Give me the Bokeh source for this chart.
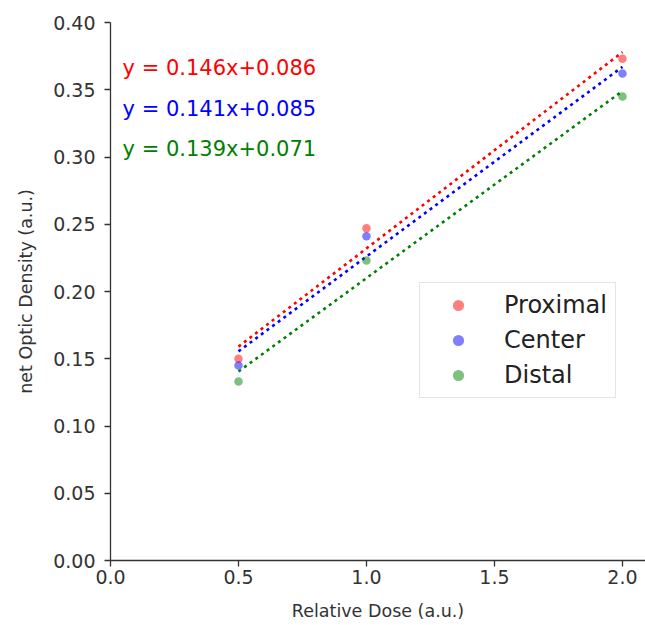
from bokeh.plotting import figure
from bokeh.models import Range1d, FixedTicker, PrintfTickFormatter, Legend, LegendItem, Label
from bokeh.embed import file_html
from bokeh.resources import INLINE

# Data
dose = [0.5, 1.0, 2.0]
proximal = [0.150, 0.247, 0.373]
center = [0.145, 0.241, 0.362]
distal = [0.133, 0.223, 0.345]
series_names = ["Proximal", "Center", "Distal"]
slopes = [0.146, 0.141, 0.139]
intercepts = [0.086, 0.085, 0.071]
fit_x = [0.5, 2.0]
eq_y = [0.366, 0.336, 0.306]
x_ticks = [0.0, 0.5, 1.0, 1.5, 2.0]
y_ticks = [0.00, 0.05, 0.10, 0.15, 0.20, 0.25, 0.30, 0.35, 0.40]

colors = ["#ff0000", "#0000ff", "#008000"]
FONT = "DejaVu Sans"

p = figure(width=645, height=625, output_backend="svg", toolbar_location=None,
           x_range=Range1d(0, 2.09), y_range=Range1d(0, 0.40),
           min_border_left=110, min_border_right=0, min_border_top=22, min_border_bottom=65)
p.outline_line_color = None
p.grid.visible = False
p.background_fill_color = "white"
p.border_fill_color = "white"

for ax in (p.xaxis[0], p.yaxis[0]):
    ax.axis_line_color = "#333333"
    ax.axis_line_width = 1.3
    ax.major_tick_line_color = "#333333"
    ax.major_tick_line_width = 1.3
    ax.major_tick_out = 6
    ax.major_tick_in = 0
    ax.minor_tick_line_color = None
    ax.major_label_text_font = FONT
    ax.major_label_text_font_size = "19px"
    ax.major_label_text_color = "#333333"
    ax.axis_label_text_font = FONT
    ax.axis_label_text_font_size = "17.5px"
    ax.axis_label_text_font_style = "normal"
    ax.axis_label_text_color = "#333333"

p.xaxis[0].ticker = FixedTicker(ticks=x_ticks)
p.xaxis[0].formatter = PrintfTickFormatter(format="%.1f")
p.yaxis[0].ticker = FixedTicker(ticks=y_ticks)
p.yaxis[0].formatter = PrintfTickFormatter(format="%.2f")
p.xaxis[0].axis_label = "Relative Dose (a.u.)"
p.yaxis[0].axis_label = "net Optic Density (a.u.)"
p.xaxis[0].major_label_standoff = 3
p.yaxis[0].major_label_standoff = 9
p.xaxis[0].axis_label_standoff = 14
p.yaxis[0].axis_label_standoff = 14

items = []
for name, vals, c, m, b, ey in zip(series_names, [proximal, center, distal], colors, slopes, intercepts, eq_y):
    fy = [m * x + b for x in fit_x]
    p.line(fit_x, fy, line_color=c, line_width=2.6, line_dash="3 4")
    r = p.scatter(dose, vals, size=8.5, fill_color=c, fill_alpha=0.5, line_color=None)
    items.append(LegendItem(label=name, renderers=[r]))
    p.add_layout(Label(x=0.047, y=ey, text=f"y = {m:.3f}x+{b:.3f}", text_color=c,
                       text_font=FONT, text_font_size="21px", text_baseline="middle"))

legend = Legend(items=items, location=(309, 162), padding=8, spacing=7,
                label_text_font=FONT, label_text_font_size="24px", label_text_color="#222222",
                glyph_width=60, glyph_height=28, label_height=28, label_standoff=16,
                border_line_color="#cccccc", border_line_width=1, background_fill_alpha=0.8)
p.add_layout(legend, "center")

open("out.html", "w").write(file_html(p, INLINE))
